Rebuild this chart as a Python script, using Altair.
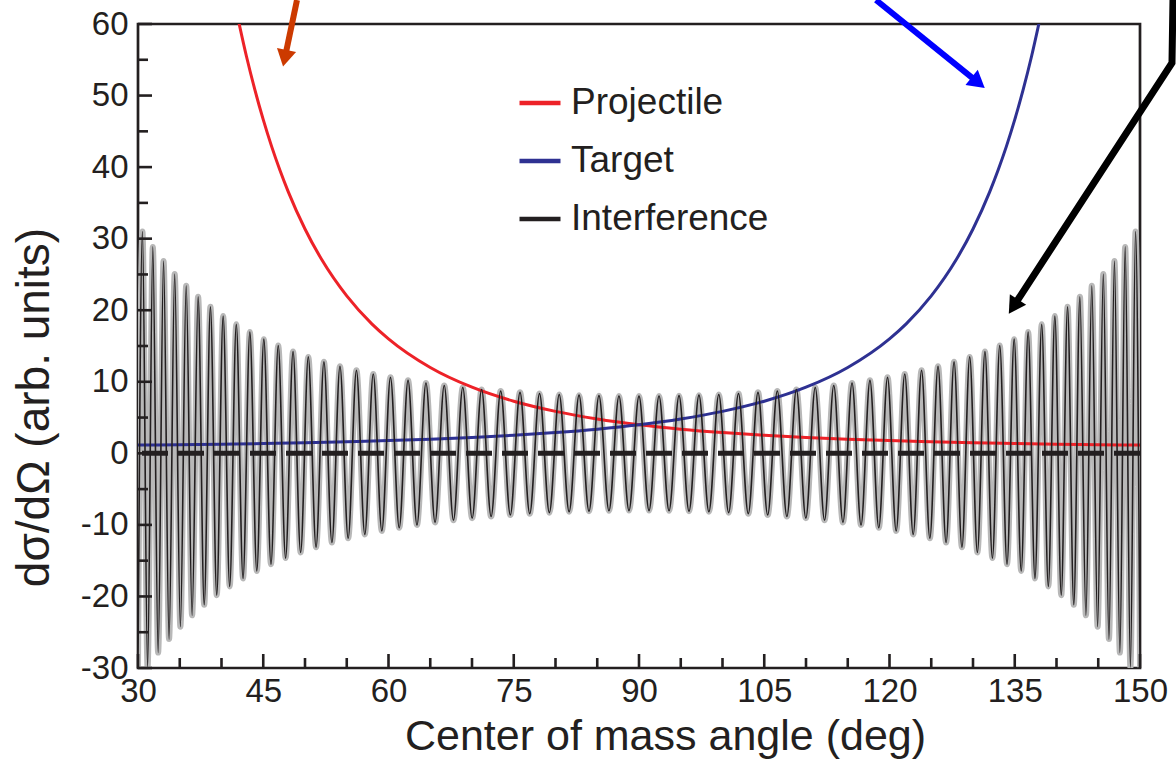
import altair as alt
import pandas as pd

# ---------------- data ----------------
series_names = ["Projectile", "Target", "Interference"]
series_colors = ["#ed2228", "#2e3192", "#231f20"]

proj_angle = [42, 43, 44, 45, 46, 47, 48, 50, 52, 55, 58, 60, 65, 70, 75, 80, 85, 90,
              95, 100, 105, 110, 115, 120, 125, 130, 135, 140, 145, 150]
proj_value = [60.63, 55.42, 50.78, 46.63, 42.90, 39.56, 36.54, 31.35, 27.08, 22.00, 18.10,
              16.00, 12.00, 9.24, 7.28, 5.86, 4.80, 4.00, 3.38, 2.90, 2.52, 2.22, 1.98,
              1.78, 1.62, 1.48, 1.37, 1.28, 1.21, 1.15]

targ_angle = [30, 35, 40, 45, 50, 55, 60, 65, 70, 75, 80, 85, 90, 95, 100, 105, 110, 115,
              120, 122, 125, 128, 130, 132, 133, 134, 135, 136, 137, 138]
targ_value = [1.15, 1.21, 1.28, 1.37, 1.48, 1.62, 1.78, 1.98, 2.22, 2.52, 2.90, 3.38, 4.00,
              4.80, 5.86, 7.28, 9.24, 12.00, 16.00, 18.10, 22.00, 27.08, 31.35, 36.54,
              39.56, 42.90, 46.63, 50.78, 55.42, 60.63]

# interference: angles of the successive maxima / minima and their values
intf_angle = [30.0,
              30.533, 31.148, 31.774, 32.411, 33.060, 33.720, 34.392, 35.076, 35.772, 36.479,
              37.198, 37.930, 38.674, 39.430, 40.198, 40.979, 41.772, 42.578, 43.396, 44.227,
              45.070, 45.926, 46.794, 47.676, 48.569, 49.475, 50.393, 51.324, 52.267, 53.222,
              54.189, 55.168, 56.159, 57.161, 58.175, 59.200, 60.236, 61.283, 62.341, 63.409,
              64.487, 65.575, 66.673, 67.779, 68.894, 70.018, 71.150, 72.289, 73.436, 74.589,
              75.749, 76.915, 78.087, 79.263, 80.445, 81.630, 82.819, 84.011, 85.206, 86.402,
              87.601, 88.800,
              90.000,
              91.200, 92.399, 93.598, 94.794, 95.989, 97.181, 98.370, 99.555, 100.737, 101.913,
              103.085, 104.251, 105.411, 106.564, 107.711, 108.850, 109.982, 111.106, 112.221, 113.327,
              114.425, 115.513, 116.591, 117.659, 118.717, 119.764, 120.800, 121.825, 122.839, 123.841,
              124.832, 125.811, 126.778, 127.733, 128.676, 129.607, 130.525, 131.431, 132.324, 133.206,
              134.074, 134.930, 135.773, 136.604, 137.422, 138.228, 139.021, 139.802, 140.570, 141.326,
              142.070, 142.802, 143.521, 144.228, 144.924, 145.608, 146.280, 146.940, 147.589, 148.226,
              148.852, 149.467,
              150.0]
intf_value = [-29.9,
              31.00, -29.90, 28.85, -27.85, 26.88, -25.96, 25.07, -24.23, 23.41, -22.63,
              21.89, -21.17, 20.49, -19.83, 19.20, -18.60, 18.03, -17.48, 16.95, -16.44,
              15.96, -15.50, 15.06, -14.64, 14.23, -13.85, 13.48, -13.13, 12.79, -12.47,
              12.17, -11.87, 11.60, -11.33, 11.08, -10.84, 10.62, -10.40, 10.20, -10.01,
              9.82, -9.65, 9.49, -9.34, 9.19, -9.06, 8.93, -8.82, 8.71, -8.61,
              8.52, -8.43, 8.36, -8.29, 8.23, -8.17, 8.13, -8.09, 8.06, -8.03,
              8.01, -8.00,
              8.00,
              -8.00, 8.01, -8.03, 8.06, -8.09, 8.13, -8.17, 8.23, -8.29, 8.36,
              -8.43, 8.52, -8.61, 8.71, -8.82, 8.93, -9.06, 9.19, -9.34, 9.49,
              -9.65, 9.82, -10.01, 10.20, -10.40, 10.62, -10.84, 11.08, -11.33, 11.60,
              -11.87, 12.17, -12.47, 12.79, -13.13, 13.48, -13.85, 14.23, -14.64, 15.06,
              -15.50, 15.96, -16.44, 16.95, -17.48, 18.03, -18.60, 19.20, -19.83, 20.49,
              -21.17, 21.89, -22.63, 23.41, -24.23, 25.07, -25.96, 26.88, -27.85, 28.85,
              -29.90, 31.00,
              -29.9]

zero_level = [0]

x_major_ticks = [30, 45, 60, 75, 90, 105, 120, 135, 150]
x_minor_ticks = [35, 40, 50, 55, 65, 70, 80, 85, 95, 100, 110, 115, 125, 130, 140, 145]
y_major_ticks = [-30, -20, -10, 0, 10, 20, 30, 40, 50, 60]
y_minor_ticks = [-25, -15, -5, 5, 15, 25, 35, 45, 55]

# annotation arrows (in data units; they run above the frame)
arrow_red_x = [49.04, 47.58]
arrow_red_y = [63.35, 55.22]
arrow_blue_x = [118.38, 130.62]
arrow_blue_y = [63.35, 51.80]
arrow_black_x = [153.95, 153.83, 134.84]
arrow_black_y = [63.35, 54.55, 20.51]
head_x = [47.58, 130.62, 134.84]
head_y = [55.22, 51.80, 20.51]
head_angle = [191.8, 129.0, 213.1]
head_color = ["#cc3a00", "#0000ff", "#000000"]

# ---------------- chart ----------------
TXT = "#231f20"
FONT = "Liberation Sans"
W, H = 1002, 644
LABEL_EXPR = "datum.value < 0 ? '-' + abs(datum.value) : '' + datum.value"

proj_df = pd.DataFrame({"angle": proj_angle, "value": proj_value, "series": "Projectile"})
targ_df = pd.DataFrame({"angle": targ_angle, "value": targ_value, "series": "Target"})
intf_df = pd.DataFrame({"angle": intf_angle, "value": intf_value, "series": "Interference"})
pt_df = pd.concat([proj_df, targ_df], ignore_index=True)

xs = alt.Scale(domain=[30, 150], nice=False, zero=False)
ys = alt.Scale(domain=[-30, 60], nice=False, zero=False)

x_axis = alt.Axis(values=x_major_ticks, labelExpr=LABEL_EXPR, tickSize=0, domain=False,
                  grid=False, labelFontSize=33, labelPadding=7, labelFlush=False,
                  labelColor=TXT, labelFont=FONT, title="Center of mass angle (deg)",
                  titleFontSize=43, titleFont=FONT, titleColor=TXT, titleFontWeight="normal",
                  titleX=527, titleY=81, titleBaseline="alphabetic")
y_axis = alt.Axis(values=y_major_ticks, labelExpr=LABEL_EXPR, tickSize=0, domain=False,
                  grid=False, labelFontSize=33, labelPadding=10, labelColor=TXT,
                  labelFont=FONT, title="dσ/dΩ (arb. units)", titleFontSize=46,
                  titleFont=FONT, titleColor=TXT, titleFontWeight="normal", titleX=-90,
                  titleY=383, titleAngle=270, titleBaseline="alphabetic", titleAlign="center")


def X(f):
    return alt.X(f, type="quantitative", scale=xs, axis=x_axis)


def Y(f):
    return alt.Y(f, type="quantitative", scale=ys, axis=y_axis)


color = alt.Color("series:N",
                  scale=alt.Scale(domain=series_names, range=series_colors),
                  sort=series_names,
                  legend=alt.Legend(title=None, orient="none", legendX=379, legendY=56,
                                    labelFontSize=37, labelFont=FONT, labelColor=TXT,
                                    labelLimit=0, symbolType="stroke", symbolSize=1681,
                                    symbolStrokeWidth=4.5, labelOffset=8, rowPadding=17,
                                    padding=0))

halo = alt.Chart(intf_df).mark_line(color="#b8b8b8", strokeWidth=6, interpolate="monotone",
                                    clip=True).encode(x=X("angle"), y=Y("value"))

pt_lines = alt.Chart(pt_df).mark_line(strokeWidth=3, interpolate="monotone", clip=True).encode(
    x=X("angle"), y=Y("value"), color=color, detail="series:N")

intf_line = alt.Chart(intf_df).mark_line(strokeWidth=1.6, interpolate="monotone",
                                         clip=True).encode(
    x=X("angle"), y=Y("value"), color=color)

zero = alt.Chart(pd.DataFrame({"y": zero_level})).mark_rule(
    color=TXT, strokeWidth=5, strokeDash=[26, 10]).encode(y=Y("y"))

ymaj = alt.Chart(pd.DataFrame({"v": y_major_ticks})).mark_rule(color=TXT, strokeWidth=2.6).encode(
    y=Y("v"), x=alt.value(0), x2=alt.value(14))
ymin = alt.Chart(pd.DataFrame({"v": y_minor_ticks})).mark_rule(color=TXT, strokeWidth=2.6).encode(
    y=Y("v"), x=alt.value(0), x2=alt.value(10))
xmaj = alt.Chart(pd.DataFrame({"v": x_major_ticks})).mark_rule(color=TXT, strokeWidth=2.6).encode(
    x=X("v"), y=alt.value(H), y2=alt.value(H - 14))
xmin = alt.Chart(pd.DataFrame({"v": x_minor_ticks})).mark_rule(color=TXT, strokeWidth=2.6).encode(
    x=X("v"), y=alt.value(H), y2=alt.value(H - 10))


def arrow(xv, yv, col, sw):
    df = pd.DataFrame({"x": xv, "y": yv, "o": list(range(len(xv)))})
    return alt.Chart(df).mark_line(color=col, strokeWidth=sw, strokeJoin="miter",
                                   strokeCap="butt").encode(
        x=X("x"), y=Y("y"), order="o:Q")


a_red = arrow(arrow_red_x, arrow_red_y, "#cc3a00", 6)
a_blue = arrow(arrow_blue_x, arrow_blue_y, "#0000ff", 6)
a_black = arrow(arrow_black_x, arrow_black_y, "#000000", 7)
heads = alt.Chart(pd.DataFrame({"x": head_x, "y": head_y, "a": head_angle, "c": head_color})).mark_point(
    shape="triangle-up", filled=True, size=380, opacity=1).encode(
    x=X("x"), y=Y("y"), angle=alt.Angle("a:Q", scale=None), color=alt.Color("c:N", scale=None))

chart = alt.layer(halo, pt_lines, intf_line, zero, ymaj, ymin, xmaj, xmin,
                  a_red, a_blue, a_black, heads).properties(
    width=W, height=H,
    padding={"left": 138, "top": 24, "right": 36, "bottom": 104},
    autosize=alt.AutoSizeParams(type="none"),
    background="white",
).configure_view(stroke=TXT, strokeWidth=2.7)

chart.save("out.html", embed_options={"renderer": "svg", "actions": False})
